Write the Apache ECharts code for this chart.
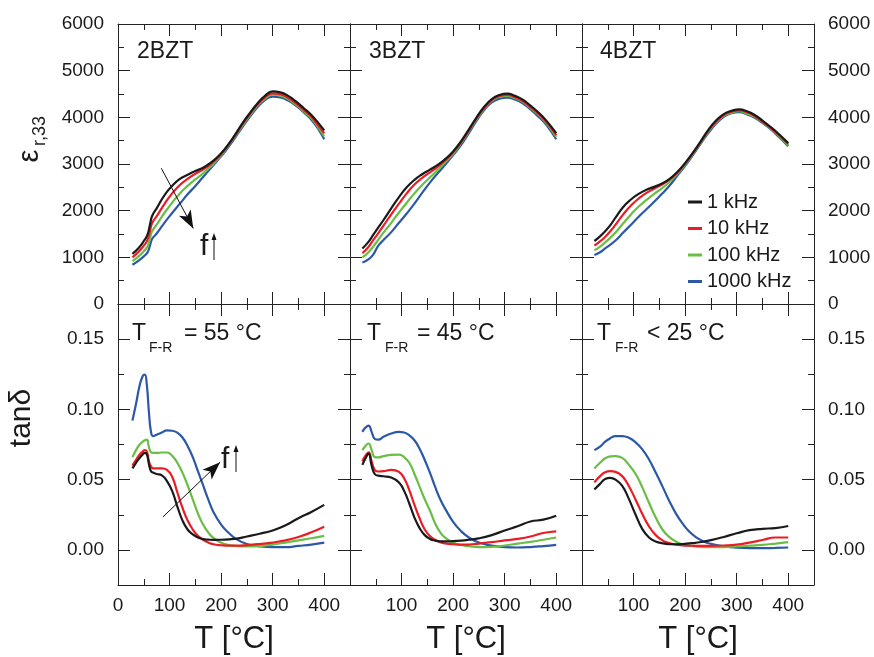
<!DOCTYPE html>
<html>
<head>
<meta charset="utf-8">
<script src="https://cdn.jsdelivr.net/npm/echarts@6/dist/echarts.min.js"></script>
<style>html,body{margin:0;padding:0;background:#fff}#c{width:874px;height:657px}</style>
</head>
<body>
<div id="c"></div>
<script>
// ---------- DATA ----------
const freqNames = ['1 kHz', '10 kHz', '100 kHz', '1000 kHz'];
const panelTitles = ['2BZT', '3BZT', '4BZT'];
const transLabels = [['= 55 °C'], ['= 45 °C'], ['< 25 °C']];
const xMajorTicks = [0, 100, 200, 300, 400];
const xMinorTicks = [50, 150, 250, 350];
const xLabels1 = [0, 100, 200, 300, 400];
const xLabels23 = [100, 200, 300, 400];
const epsMajorTicks = [0, 1000, 2000, 3000, 4000, 5000, 6000];
const epsMinorTicks = [500, 1500, 2500, 3500, 4500, 5500];
const tanMajorTicks = [0, 0.05, 0.10, 0.15];
const tanMinorTicks = [-0.025, 0.025, 0.075, 0.125, 0.175];

// permittivity, 2BZT
const T_eps2 = [28, 40, 50, 57, 62, 66, 75, 90, 105, 120, 135, 150, 165, 180, 195, 210, 225, 240, 255, 270, 285, 300, 315, 330, 345, 360, 375, 390, 400];
const eps2_1k    = [1075, 1200, 1350, 1480, 1700, 1880, 2050, 2330, 2530, 2680, 2770, 2850, 2920, 3030, 3170, 3360, 3590, 3850, 4080, 4290, 4460, 4555, 4535, 4460, 4340, 4200, 4050, 3860, 3720];
const eps2_10k   = [1000, 1120, 1250, 1370, 1560, 1730, 1880, 2140, 2370, 2550, 2680, 2790, 2880, 3000, 3150, 3350, 3580, 3830, 4060, 4270, 4430, 4515, 4495, 4420, 4300, 4160, 4010, 3800, 3660];
const eps2_100k  = [920, 1020, 1130, 1230, 1400, 1560, 1700, 1950, 2170, 2370, 2530, 2670, 2800, 2950, 3120, 3330, 3560, 3800, 4030, 4240, 4400, 4485, 4465, 4390, 4270, 4130, 3980, 3760, 3590];
const eps2_1000k = [840, 930, 1020, 1100, 1250, 1390, 1510, 1740, 1950, 2150, 2350, 2530, 2720, 2910, 3100, 3300, 3530, 3770, 4000, 4210, 4370, 4445, 4425, 4360, 4250, 4110, 3950, 3720, 3530];

// permittivity, 3BZT
const T_eps3 = [24, 35, 45, 55, 65, 80, 95, 110, 125, 140, 155, 170, 185, 200, 215, 230, 245, 260, 275, 290, 305, 320, 335, 350, 365, 380, 400];
const eps3_1k    = [1190, 1320, 1480, 1640, 1800, 2050, 2290, 2500, 2660, 2780, 2880, 2980, 3110, 3270, 3480, 3730, 3990, 4220, 4390, 4480, 4510, 4460, 4380, 4250, 4110, 3940, 3660];
const eps3_10k   = [1090, 1210, 1370, 1520, 1680, 1920, 2150, 2370, 2560, 2700, 2820, 2940, 3080, 3250, 3460, 3710, 3970, 4200, 4370, 4460, 4480, 4430, 4350, 4220, 4080, 3910, 3620];
const eps3_100k  = [1000, 1100, 1230, 1380, 1530, 1740, 1960, 2170, 2370, 2550, 2710, 2870, 3040, 3220, 3440, 3690, 3950, 4180, 4350, 4440, 4460, 4410, 4330, 4200, 4060, 3890, 3580];
const eps3_1000k = [890, 950, 1060, 1250, 1370, 1540, 1740, 1940, 2150, 2380, 2600, 2800, 2990, 3190, 3400, 3650, 3920, 4150, 4320, 4400, 4420, 4380, 4300, 4170, 4020, 3850, 3530];

// permittivity, 4BZT
const T_eps4 = [24, 35, 45, 55, 65, 80, 95, 110, 125, 140, 155, 170, 185, 200, 215, 230, 245, 260, 275, 290, 305, 320, 335, 350, 365, 380, 400];
const eps4_1k    = [1350, 1450, 1560, 1690, 1850, 2080, 2240, 2360, 2450, 2510, 2580, 2680, 2830, 3020, 3240, 3480, 3730, 3930, 4070, 4140, 4170, 4130, 4050, 3930, 3800, 3660, 3450];
const eps4_10k   = [1250, 1340, 1440, 1560, 1700, 1920, 2110, 2260, 2380, 2470, 2560, 2670, 2820, 3010, 3230, 3470, 3710, 3910, 4050, 4120, 4150, 4110, 4030, 3910, 3780, 3640, 3430];
const eps4_100k  = [1150, 1230, 1320, 1420, 1530, 1730, 1920, 2090, 2230, 2360, 2480, 2620, 2790, 2990, 3210, 3450, 3690, 3890, 4030, 4100, 4130, 4080, 4010, 3900, 3760, 3620, 3400];
const eps4_1000k = [1050, 1110, 1190, 1270, 1360, 1530, 1700, 1870, 2030, 2190, 2360, 2540, 2750, 2960, 3190, 3430, 3660, 3860, 4010, 4090, 4110, 4060, 3990, 3880, 3750, 3600, 3380];

// loss tangent, 2BZT
const T_tan2 = [28, 35, 42, 48, 52, 56, 60, 64, 68, 75, 85, 95, 105, 115, 125, 135, 145, 155, 165, 175, 185, 200, 215, 230, 250, 275, 300, 325, 350, 375, 400];
const tan2_1k    = [0.058, 0.062, 0.0655, 0.068, 0.069, 0.068, 0.061, 0.056, 0.055, 0.054, 0.053, 0.049, 0.042, 0.031, 0.021, 0.0145, 0.011, 0.0088, 0.0077, 0.0073, 0.0071, 0.0072, 0.0075, 0.008, 0.0095, 0.0115, 0.0138, 0.0175, 0.0225, 0.027, 0.032];
const tan2_10k   = [0.060, 0.064, 0.068, 0.070, 0.071, 0.070, 0.063, 0.0595, 0.058, 0.058, 0.058, 0.057, 0.052, 0.041, 0.030, 0.021, 0.0145, 0.010, 0.0072, 0.0052, 0.0040, 0.0033, 0.003, 0.003, 0.0034, 0.0042, 0.0052, 0.0068, 0.0092, 0.0125, 0.0165];
const tan2_100k  = [0.066, 0.071, 0.075, 0.077, 0.078, 0.0785, 0.073, 0.0695, 0.069, 0.069, 0.0693, 0.0693, 0.067, 0.062, 0.055, 0.046, 0.036, 0.026, 0.018, 0.0125, 0.0085, 0.005, 0.0034, 0.0027, 0.0024, 0.0027, 0.0038, 0.0052, 0.0068, 0.0083, 0.010];
const tan2_1000k = [0.092, 0.104, 0.117, 0.1238, 0.1248, 0.117, 0.098, 0.084, 0.081, 0.082, 0.0835, 0.085, 0.0848, 0.0835, 0.080, 0.074, 0.066, 0.056, 0.046, 0.036, 0.027, 0.018, 0.012, 0.0075, 0.0042, 0.0025, 0.0019, 0.0019, 0.0028, 0.0038, 0.0052];

// loss tangent, 3BZT
const T_tan3 = [24, 30, 36, 42, 48, 55, 65, 80, 95, 105, 115, 125, 135, 145, 155, 165, 175, 185, 200, 215, 230, 250, 275, 300, 325, 350, 375, 400];
const tan3_1k    = [0.0605, 0.065, 0.0685, 0.060, 0.054, 0.0528, 0.0524, 0.0515, 0.048, 0.042, 0.033, 0.023, 0.0155, 0.0105, 0.0078, 0.0066, 0.0061, 0.006, 0.0062, 0.0066, 0.0072, 0.0082, 0.0105, 0.0138, 0.0168, 0.0202, 0.0215, 0.0243];
const tan3_10k   = [0.063, 0.067, 0.0695, 0.063, 0.057, 0.0558, 0.056, 0.057, 0.0555, 0.051, 0.0425, 0.032, 0.0225, 0.0145, 0.0098, 0.0072, 0.0055, 0.0046, 0.004, 0.0037, 0.0038, 0.0045, 0.0055, 0.0067, 0.0078, 0.0095, 0.012, 0.0132];
const tan3_100k  = [0.071, 0.074, 0.0757, 0.071, 0.066, 0.0658, 0.0667, 0.0676, 0.0678, 0.066, 0.062, 0.054, 0.045, 0.036, 0.028, 0.019, 0.0125, 0.0085, 0.0052, 0.0035, 0.0027, 0.002, 0.0022, 0.0031, 0.0045, 0.0057, 0.0072, 0.0088];
const tan3_1000k = [0.084, 0.087, 0.0885, 0.084, 0.079, 0.0785, 0.0805, 0.0828, 0.084, 0.0835, 0.0815, 0.078, 0.072, 0.064, 0.055, 0.045, 0.036, 0.029, 0.020, 0.0135, 0.009, 0.0052, 0.003, 0.002, 0.0017, 0.002, 0.0027, 0.0036];

// loss tangent, 4BZT
const T_tan4 = [24, 35, 45, 55, 65, 78, 90, 104, 117, 130, 143, 156, 169, 182, 195, 208, 220, 235, 250, 275, 300, 325, 350, 375, 400];
const tan4_1k    = [0.043, 0.047, 0.0505, 0.0512, 0.050, 0.0455, 0.037, 0.025, 0.0148, 0.0088, 0.006, 0.0047, 0.0041, 0.004, 0.0042, 0.0046, 0.005, 0.0058, 0.0069, 0.0092, 0.0118, 0.014, 0.015, 0.0155, 0.017];
const tan4_10k   = [0.048, 0.0525, 0.0552, 0.056, 0.0555, 0.0525, 0.046, 0.0357, 0.0255, 0.0167, 0.0105, 0.0068, 0.0048, 0.0037, 0.0032, 0.003, 0.0029, 0.0029, 0.0029, 0.0031, 0.0037, 0.0052, 0.007, 0.0088, 0.0088];
const tan4_100k  = [0.058, 0.062, 0.0652, 0.0665, 0.0667, 0.0655, 0.061, 0.054, 0.0445, 0.0335, 0.023, 0.0145, 0.0093, 0.006, 0.004, 0.003, 0.0025, 0.002, 0.0019, 0.002, 0.0024, 0.003, 0.0036, 0.0045, 0.0055];
const tan4_1000k = [0.071, 0.0735, 0.077, 0.0795, 0.081, 0.081, 0.080, 0.0765, 0.0715, 0.0643, 0.055, 0.0452, 0.035, 0.026, 0.0188, 0.013, 0.0093, 0.0062, 0.0043, 0.0025, 0.0015, 0.0012, 0.0012, 0.0014, 0.0017];

// annotation arrows (data coordinates)
const arrowEps = [[84, 2910], [146, 1620]];
const arrowTan = [[87, 0.0234], [198, 0.0624]];

// ---------- CHART ----------
const FONT = '"Liberation Sans", Arial, Helvetica, sans-serif';
const AX = '#222';
const TXT = '#1a1a1a';
const colors = ['#1a1a1a', '#ec1c24', '#6abd45', '#2c58a8'];

const panels = [
  { T: T_eps2, ys: [eps2_1k, eps2_10k, eps2_100k, eps2_1000k], row: 0, col: 0 },
  { T: T_eps3, ys: [eps3_1k, eps3_10k, eps3_100k, eps3_1000k], row: 0, col: 1 },
  { T: T_eps4, ys: [eps4_1k, eps4_10k, eps4_100k, eps4_1000k], row: 0, col: 2 },
  { T: T_tan2, ys: [tan2_1k, tan2_10k, tan2_100k, tan2_1000k], row: 1, col: 0 },
  { T: T_tan3, ys: [tan3_1k, tan3_10k, tan3_100k, tan3_1000k], row: 1, col: 1 },
  { T: T_tan4, ys: [tan4_1k, tan4_10k, tan4_100k, tan4_1000k], row: 1, col: 2 }
];

const colLeft = [118, 350, 582];
const colW = 232;
const rowTop = [24, 304];
const rowH = [280, 281];

const grid = [], xAxis = [], yAxis = [], series = [];
const lineStyle = { color: AX, width: 1 };

panels.forEach((p, gi) => {
  grid.push({ left: colLeft[p.col], top: rowTop[p.row], width: colW, height: rowH[p.row], containLabel: false });
  const isTop = p.row === 0;
  const yMin = isTop ? 0 : -0.025, yMax = isTop ? 6000 : 0.175;
  const yMaj = isTop ? epsMajorTicks : tanMajorTicks;
  const yMin2 = isTop ? epsMinorTicks : tanMinorTicks;
  const yFmt = isTop ? (v => String(Math.round(v))) : (v => Number(v).toFixed(2));

  const xIdx = xAxis.length;
  ['bottom', 'top'].forEach(pos => {
    const showLab = pos === 'bottom' && !isTop;
    xAxis.push({
      gridIndex: gi, type: 'value', position: pos, min: 0, max: 450,
      axisLine: { show: true, onZero: false, lineStyle },
      axisTick: { show: true, inside: true, length: 12, customValues: xMajorTicks, lineStyle },
      axisLabel: { show: showLab, customValues: p.col === 0 ? xLabels1 : xLabels23, margin: 11,
        fontSize: 19, color: TXT, fontFamily: FONT },
      splitLine: { show: false },
      name: showLab ? 'T [°C]' : '', nameLocation: 'middle', nameGap: 39,
      nameTextStyle: { fontSize: 31, color: TXT, fontFamily: FONT }
    });
    xAxis.push({
      gridIndex: gi, type: 'value', position: pos, min: 0, max: 450,
      axisLine: { show: false, onZero: false },
      axisTick: { show: true, inside: true, length: 6, customValues: xMinorTicks, lineStyle },
      axisLabel: { show: false }, splitLine: { show: false }
    });
  });

  const yIdx = yAxis.length;
  ['left', 'right'].forEach(pos => {
    const showLab = (pos === 'left' && p.col === 0) || (pos === 'right' && p.col === 2);
    yAxis.push({
      gridIndex: gi, type: 'value', position: pos, min: yMin, max: yMax,
      axisLine: { show: true, onZero: false, lineStyle },
      axisTick: { show: true, inside: true, length: 12, customValues: yMaj, lineStyle },
      axisLabel: { show: showLab, customValues: yMaj, formatter: yFmt, margin: 14,
        fontSize: 19, color: TXT, fontFamily: FONT },
      splitLine: { show: false }
    });
    yAxis.push({
      gridIndex: gi, type: 'value', position: pos, min: yMin, max: yMax,
      axisLine: { show: false, onZero: false },
      axisTick: { show: true, inside: true, length: 6, customValues: yMin2, lineStyle },
      axisLabel: { show: false }, splitLine: { show: false }
    });
  });

  p.ys.forEach((vals, si) => {
    const s = {
      type: 'line', name: freqNames[si], xAxisIndex: xIdx, yAxisIndex: yIdx,
      data: p.T.map((t, i) => [t, vals[i]]),
      showSymbol: false, symbol: 'none', smooth: 0.5,
      lineStyle: { color: colors[si], width: 2.2 }, itemStyle: { color: colors[si] },
      z: 5 - si, silent: true, animation: false
    };
    if (si === 0 && (gi === 0 || gi === 3)) {
      const arr = gi === 0 ? arrowEps : arrowTan;
      s.markLine = {
        silent: true, animation: false, symbol: ['none', 'arrow'], symbolSize: [10, 18],
        lineStyle: { color: '#111', width: 1, type: 'solid' }, label: { show: false },
        data: [[{ coord: arr[0] }, { coord: arr[1] }]]
      };
    }
    series.push(s);
  });
});

// text annotations
const graphic = [];
function txt(x, y, text, size, opts) {
  graphic.push(Object.assign({
    type: 'text', x, y, silent: true,
    style: Object.assign({ text, font: size + 'px ' + FONT, fill: TXT,
      textAlign: 'left', textVerticalAlign: 'middle', align: 'left', verticalAlign: 'middle' }, (opts && opts.style) || {})
  }, (opts && opts.el) || {}));
}
// panel titles
[137, 369, 600].forEach((x, i) => txt(x, 52, panelTitles[i], 23));
// T_F-R labels
const tfrX = [[132, 149, 184], [367, 385, 417], [597, 615, 647]];
tfrX.forEach((xs, i) => {
  txt(xs[0], 334, 'T', 23);
  txt(xs[1], 348, 'F-R', 14);
  txt(xs[2], 334, transLabels[i][0], 23);
});
// y-axis titles
const rot = { el: { rotation: Math.PI / 2 }, style: { textAlign: 'center', align: 'center' } };
txt(30, 156, 'ε', 29, rot);
txt(40, 131, 'r,33', 18, rot);
txt(22, 418, 'tanδ', 30, rot);
// f with small arrow
function fArrow(x, y, ax, ay1, ay2) {
  txt(x, y, 'f', 30);
  graphic.push({ type: 'line', silent: true, shape: { x1: ax, y1: ay2, x2: ax, y2: ay1 + 4 }, style: { stroke: '#111', lineWidth: 1 } });
  graphic.push({ type: 'polygon', silent: true, shape: { points: [[ax - 2.5, ay1 + 7], [ax + 2.5, ay1 + 7], [ax, ay1]] }, style: { fill: '#111' } });
}
fArrow(200, 247, 214, 233, 260);
fArrow(221, 460, 236, 445, 472);

const option = {
  animation: false,
  backgroundColor: '#fff',
  textStyle: { fontFamily: FONT },
  grid, xAxis, yAxis, series, graphic,
  legend: {
    data: freqNames, orient: 'vertical', left: 688, top: 192, padding: 0,
    itemWidth: 14, itemHeight: 3, itemGap: 6.5, icon: 'rect',
    selectedMode: false,
    textStyle: { fontSize: 20, color: TXT, fontFamily: FONT, lineHeight: 20 }
  }
};
const chart = echarts.init(document.getElementById('c'), null, { renderer: 'canvas' });
chart.setOption(option);
</script>
</body>
</html>
